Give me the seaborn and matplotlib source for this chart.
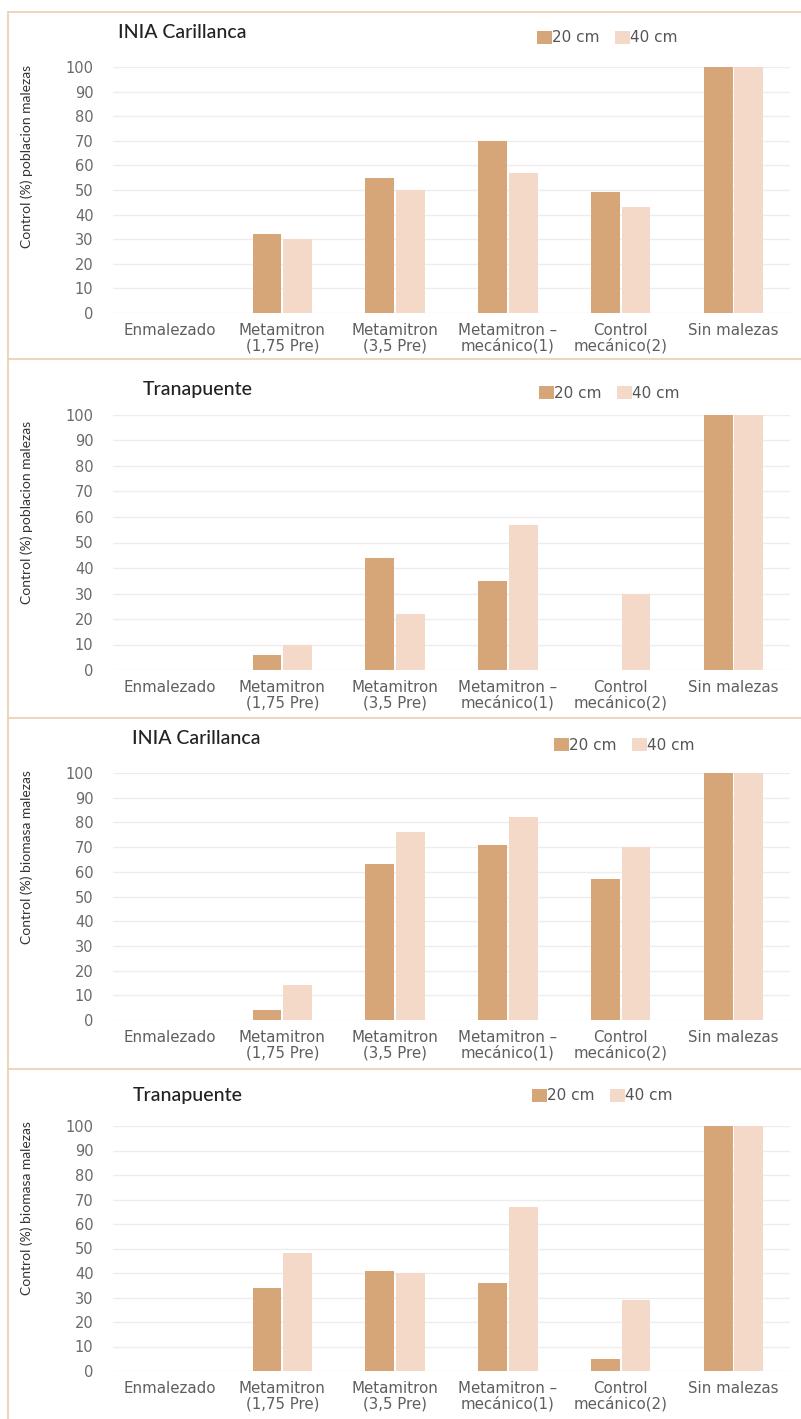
import matplotlib
matplotlib.use("Agg")
import matplotlib.pyplot as plt
from matplotlib.patches import Patch
from matplotlib.lines import Line2D
import seaborn as sns
import pandas as pd

# ---------------- data ----------------
categories = ["Enmalezado", "Metamitron\n(1,75 Pre)", "Metamitron\n(3,5 Pre)",
              "Metamitron –\nmecánico(1)", "Control\nmecánico(2)", "Sin malezas"]
depths = ["20 cm", "40 cm"]

p1_title = "INIA Carillanca"
p1_ylabel = "Control (%) poblacion malezas"
p1_20 = [0, 32, 55, 70, 49, 100]
p1_40 = [0, 30, 50, 57, 43, 100]

p2_title = "Tranapuente"
p2_ylabel = "Control (%) poblacion malezas"
p2_20 = [0, 6, 44, 35, 0, 100]
p2_40 = [0, 10, 22, 57, 30, 100]

p3_title = "INIA Carillanca"
p3_ylabel = "Control (%) biomasa malezas"
p3_20 = [0, 4, 63, 71, 57, 100]
p3_40 = [0, 14, 76, 82, 70, 100]

p4_title = "Tranapuente"
p4_ylabel = "Control (%) biomasa malezas"
p4_20 = [0, 34, 41, 36, 5, 100]
p4_40 = [0, 48, 40, 67, 29, 100]

yticks = [0, 10, 20, 30, 40, 50, 60, 70, 80, 90, 100]

# ---------------- style ----------------
sns.set_theme(style="white")
plt.rcParams["font.family"] = ["DejaVu Sans"]

C20 = "#D6A679"
C40 = "#F4D9C8"
BORDER = "#EBCDB2"
GRID = "#EDEDED"
palette = {"20 cm": C20, "40 cm": C40}

W, H = 801, 1419
fig = plt.figure(figsize=(W / 100, H / 100), dpi=100)
fig.patch.set_facecolor("white")

panels = [
    dict(title=p1_title, ylabel=p1_ylabel, v20=p1_20, v40=p1_40,
         top=67, bottom=313, title_xy=(118, 33), leg_xy=(537, 38), ylab_y=156),
    dict(title=p2_title, ylabel=p2_ylabel, v20=p2_20, v40=p2_40,
         top=415, bottom=670, title_xy=(143, 390), leg_xy=(539, 393), ylab_y=512),
    dict(title=p3_title, ylabel=p3_ylabel, v20=p3_20, v40=p3_40,
         top=773, bottom=1020, title_xy=(132, 738), leg_xy=(554, 745), ylab_y=857),
    dict(title=p4_title, ylabel=p4_ylabel, v20=p4_20, v40=p4_40,
         top=1126, bottom=1371, title_xy=(133, 1096), leg_xy=(532, 1096), ylab_y=1208),
]

AX_L, AX_R = 113, 790

for p in panels:
    df = pd.DataFrame({
        "Tratamiento": categories * 2,
        "Profundidad": [depths[0]] * len(categories) + [depths[1]] * len(categories),
        "Control": p["v20"] + p["v40"],
    })
    ax = fig.add_axes([AX_L / W, 1 - p["bottom"] / H, (AX_R - AX_L) / W,
                       (p["bottom"] - p["top"]) / H])
    sns.barplot(data=df, x="Tratamiento", y="Control", hue="Profundidad",
                order=categories, hue_order=depths, palette=palette,
                saturation=1, width=0.54, gap=0.05, linewidth=0, legend=False,
                ax=ax, errorbar=None)
    ax.set_ylim(0, 100)
    ax.set_xlim(-0.5, len(categories) - 0.5)
    ax.set_yticks(yticks)
    ax.set_axisbelow(True)
    ax.yaxis.grid(True, color=GRID, linewidth=1.0)
    ax.xaxis.grid(False)
    for s in ax.spines.values():
        s.set_visible(False)
    ax.set_xlabel("")
    ax.set_ylabel("")
    ax.tick_params(axis="y", length=0, pad=14, labelsize=10.5, labelcolor="#6A6A6A")
    ax.tick_params(axis="x", length=0, pad=7, labelsize=10.8, labelcolor="#5E5E5E")
    for t in ax.get_xticklabels():
        t.set_linespacing(1.05)
    ax.set_facecolor("none")

    fig.text(p["title_xy"][0] / W, 1 - p["title_xy"][1] / H, p["title"],
             family="Lato", fontsize=14, fontweight="medium", color="#222222",
             ha="left", va="center")
    fig.text(27 / W, 1 - p["ylab_y"] / H, p["ylabel"], family="Lato",
             fontsize=10, color="#333333", rotation=90, ha="center", va="center")

    handles = [Patch(facecolor=palette[d], edgecolor="none") for d in depths]
    ax.legend(handles, depths, loc="center left",
              bbox_to_anchor=(p["leg_xy"][0] / W, 1 - p["leg_xy"][1] / H),
              bbox_transform=fig.transFigure, ncol=2, frameon=False,
              handlelength=0.95, handleheight=0.95, handletextpad=0.05,
              columnspacing=1.0, borderaxespad=0, borderpad=0,
              prop={"family": "DejaVu Sans", "size": 11},
              labelcolor="#555555")

# panel frames
lines_y = [12, 359, 718, 1069]
for y in lines_y:
    fig.add_artist(Line2D([8 / W, 1.0], [1 - y / H, 1 - y / H],
                          transform=fig.transFigure, color=BORDER, linewidth=1.2))
fig.add_artist(Line2D([8 / W, 8 / W], [1 - 12 / H, 0.0],
                      transform=fig.transFigure, color=BORDER, linewidth=1.2))

fig.savefig("out.png", dpi=100, facecolor="white")
